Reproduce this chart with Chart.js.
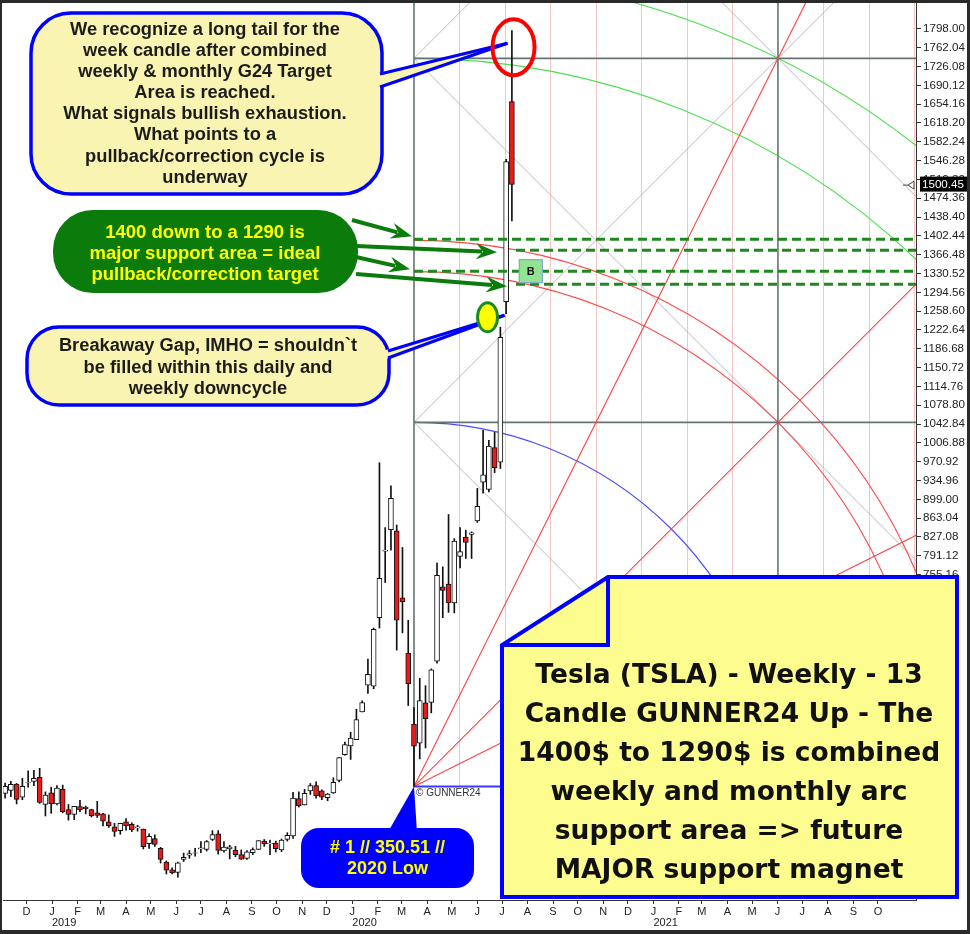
<!DOCTYPE html>
<html><head><meta charset="utf-8">
<script src="https://cdn.jsdelivr.net/npm/chart.js@4.4.1/dist/chart.umd.min.js"></script>
<style>
html,body{margin:0;padding:0;background:#fff;}
#wrap{position:relative;width:970px;height:934px;overflow:hidden;background:#fff;}
canvas{position:absolute;left:0;top:0;}
.t{position:absolute;text-align:center;font-family:"Liberation Sans",Arial,sans-serif;font-weight:bold;white-space:nowrap;}
.big{font-family:"DejaVu Sans",Verdana,sans-serif;}
</style></head><body>
<div id="wrap">
<canvas id="c" width="970" height="934"></canvas>
<div class="t" style="left:31px;top:18px;width:348px;font-size:18.3px;line-height:21.1px;color:#1c1c1c">We recognize a long tail for the<br>week candle after combined<br>weekly &amp; monthly G24 Target<br>Area is reached.<br>What signals bullish exhaustion.<br>What points to a<br>pullback/correction cycle is<br>underway</div>
<div class="t" style="left:53px;top:220.5px;width:304px;font-size:18.5px;line-height:21px;color:#ffff00">1400 down to a 1290 is<br>major support area = ideal<br>pullback/correction target</div>
<div class="t" style="left:27px;top:334px;width:362px;font-size:18.3px;line-height:21.5px;color:#1c1c1c">Breakaway Gap, IMHO = shouldn`t<br>be filled within this daily and<br>weekly downcycle</div>
<div class="t" style="left:301px;top:837px;width:173px;font-size:18px;line-height:21px;color:#ffff00"># 1 // 350.51 //<br>2020 Low</div>
<div class="t big" style="left:501px;top:653.5px;width:456px;font-size:26.5px;line-height:39px;color:#111">Tesla (TSLA) - Weekly - 13<br>Candle GUNNER24 Up - The<br>1400$ to 1290$ is combined<br>weekly and monthly arc<br>support area =&gt; future<br>MAJOR support magnet</div>
</div>
<script>
// ---------- DATA ----------
const weekDates = ['2018-11-05','2018-11-12','2018-11-19','2018-11-26','2018-12-03','2018-12-10','2018-12-17','2018-12-24','2018-12-31',
'2019-01-07','2019-01-14','2019-01-21','2019-01-28','2019-02-04','2019-02-11','2019-02-18','2019-02-25','2019-03-04','2019-03-11','2019-03-18','2019-03-25',
'2019-04-01','2019-04-08','2019-04-15','2019-04-22','2019-04-29','2019-05-06','2019-05-13','2019-05-20','2019-05-27','2019-06-03','2019-06-10','2019-06-17','2019-06-24',
'2019-07-01','2019-07-08','2019-07-15','2019-07-22','2019-07-29','2019-08-05','2019-08-12','2019-08-19','2019-08-26','2019-09-02','2019-09-09','2019-09-16','2019-09-23','2019-09-30',
'2019-10-07','2019-10-14','2019-10-21','2019-10-28','2019-11-04','2019-11-11','2019-11-18','2019-11-25','2019-12-02','2019-12-09','2019-12-16','2019-12-23','2019-12-30',
'2020-01-06','2020-01-13','2020-01-20','2020-01-27','2020-02-03','2020-02-10','2020-02-17','2020-02-24','2020-03-02','2020-03-09','2020-03-16','2020-03-23','2020-03-30',
'2020-04-06','2020-04-13','2020-04-20','2020-04-27','2020-05-04','2020-05-11','2020-05-18','2020-05-25','2020-06-01','2020-06-08','2020-06-15','2020-06-22','2020-06-29','2020-07-06','2020-07-13'];
const openP  = [337,343,355,330,357,360,368,316,338, 317,345,306,297,312,311,306,300,298,283,273,266, 283,278,271,269,241,251,232,206,191,186,211,219,223, 231,230,249,260,227,231,229,220,213,224,230,246,241,242, 229,249,256,327,315,342,352,342,329,338,362,411,428, 440,493,544,542,673,800,841,839,711,605,469.5,433,510, 511,590,732,737,701,790,827,832,858,932,917.8,998,970,1276.7,1659];
const highP  = [357,360,356,366,380,381,385,340,349, 352,353,316,312,324,313,307,322,299,296,280,280, 289,281,276,269,260,258,234,208,195,206,223,228,232, 245,247,266,266,245,238,236,229,228,233,247,249,248,246, 250,262,339,340,345,356,359,344,337,367,406,435,454, 498,514,594,653,969,845,925,850,807,668,501,557,543, 575,777,770,870,824,845,840,837,920,1031,1012,1027,1228,1548.9,1795];
const lowP   = [328,331,317,325,349,352,318,294,299, 315,300,286,287,302,298,292,291,275,272,255,259, 267,264,265,231,232,236,204,183,183,177,207,213,217, 224,227,247,221,225,212,216,211,211,220,230,236,220,225, 226,246,251,311,315,335,328,325,323,337,359,410,402, 440,493,528,537,653,740,802,611,644,505,350.51,403,424, 491,586,673,683,682,768,786,786,855,911,913,950,958,1254,1431];
const closeP = [350.5,354.3,325.8,350.5,358,365.7,319.8,333.9,317.7, 347.3,302.3,297.0,312.2,305.8,307.9,294.7,294.8,284.1,275.4,264.5,279.9, 275.0,267.8,273.3,235.1,255.0,239.5,211.0,190.6,185.2,204.5,214.9,221.9,223.5, 233.1,245.1,258.2,228.0,234.3,235.0,219.9,211.4,225.6,229.6,247.1,240.6,242.1,231.4, 247.9,257.0,328.1,313.3,337.1,352.2,333.0,329.9,335.9,358.4,405.6,430.4,443.0, 478.2,510.5,564.8,650.6,748.1,802,901,668,703.5,546.6,427.5,514.4,480.0, 573.0,753.9,725.2,701.3,819.4,799.2,816.9,835,885.7,946,1000.9,959.7,1208.7,1544.7,1500.6];
const yTicks = [1798.00,1762.04,1726.08,1690.12,1654.16,1618.20,1582.24,1546.28,1510.32,1474.36,1438.40,1402.44,1366.48,1330.52,1294.56,1258.60,1222.64,1186.68,1150.72,1114.76,1078.80,1042.84,1006.88,970.92,934.96,899.00,863.04,827.08,791.12,755.16,719.20,683.24,647.28,611.32,575.36,539.40,503.44,467.48,431.52,395.56,359.60,323.64,287.68,251.72,215.76,179.80,143.84];
const monthLetters = ['J','F','M','A','M','J','J','A','S','O','N','D'];
const yearLabels = ['2019','2020','2021'];
const supportLevels = [1396, 1375, 1335, 1310];
const lastPrice = 1500.45;
const gannOrigin = {date:'2020-03-16', price:350.51};
const gannSquare = {days:442.4, price:695.6};

// ---------- helpers ----------
const DAY0 = Date.UTC(2019,0,1);
function dayOf(s){const p=s.split('-').map(Number);return (Date.UTC(p[0],p[1]-1,p[2])-DAY0)/86400000;}
const monthTickDays = [], monthLabelByDay = {};
for(let y=2018,m=11; y<2021 || (y===2021 && m<=9); ){
  const d=(Date.UTC(y,m,1)-DAY0)/86400000; monthTickDays.push(d); monthLabelByDay[d]=monthLetters[m];
  m++; if(m>11){m=0;y++;}
}
const X_MIN=-59.56, X_MAX=1050.2, Y_MIN=133.4, Y_MAX=1847.5;
const FONT='"Liberation Sans", Arial, sans-serif';

function rrect(ctx,x,y,w,h,r){ctx.beginPath();ctx.moveTo(x+r,y);ctx.lineTo(x+w-r,y);ctx.arcTo(x+w,y,x+w,y+r,r);ctx.lineTo(x+w,y+h-r);ctx.arcTo(x+w,y+h,x+w-r,y+h,r);ctx.lineTo(x+r,y+h);ctx.arcTo(x,y+h,x,y+h-r,r);ctx.lineTo(x,y+r);ctx.arcTo(x,y,x+r,y,r);ctx.closePath();}
function line(ctx,x1,y1,x2,y2){ctx.beginPath();ctx.moveTo(x1,y1);ctx.lineTo(x2,y2);ctx.stroke();}
function arrow(ctx,x1,y1,x2,y2,col){
  const a=Math.atan2(y2-y1,x2-x1),L=18,W=8,c=Math.cos(a),s=Math.sin(a);
  const bx=x2-L*c,by=y2-L*s;
  ctx.strokeStyle=col;ctx.lineWidth=4;ctx.lineCap='butt';line(ctx,x1,y1,bx+3*c,by+3*s);
  ctx.fillStyle=col;ctx.beginPath();ctx.moveTo(x2,y2);
  ctx.lineTo(bx-3*c+W*s,by-3*s-W*c);ctx.lineTo(bx+4*c,by+4*s);ctx.lineTo(bx-3*c-W*s,by-3*s+W*c);ctx.closePath();ctx.fill();
}
function noPad(s){s.paddingTop=0;s.paddingBottom=0;s.paddingLeft=0;s.paddingRight=0;}

// ---------- Gann drawing (behind candles) ----------
const gannPlugin={id:'gann',beforeDatasetsDraw(chart){
  const ctx=chart.ctx,a=chart.chartArea,xs=chart.scales.x,ys=chart.scales.y;
  const od=dayOf(gannOrigin.date);
  const ox=xs.getPixelForValue(od),oy=ys.getPixelForValue(gannOrigin.price);
  const sx=xs.getPixelForValue(od+gannSquare.days)-ox, sy=oy-ys.getPixelForValue(gannOrigin.price+gannSquare.price);
  const P=(u,v)=>[ox+u*sx,oy-v*sy];
  ctx.save();ctx.beginPath();ctx.rect(a.left,a.top,a.right-a.left,a.bottom-a.top);ctx.clip();
  // pink verticals
  ctx.strokeStyle='#f0c6c6';ctx.lineWidth=1;
  for(let k=1;k<=11;k++){if(k===8)continue;const x=Math.round(ox+k*sx/8)+0.5;line(ctx,x,oy,x,a.top);}
  // light gray diagonals
  ctx.strokeStyle='#b8b8b8';ctx.lineWidth=1;
  [[0,1,1,0],[0,2,2,0],[0,1,2,3],[0,2,1,3],[0,3,2,1]].forEach(l=>{const p1=P(l[0],l[1]),p2=P(l[2],l[3]);line(ctx,p1[0],p1[1],p2[0],p2[1]);});
  // arcs
  const arcs=[[1,'#4a4aff'],[Math.SQRT2,'#ff4848'],[1.5,'#ff4848'],[2,'#4fe04f'],[Math.sqrt(5),'#4fe04f']];
  arcs.forEach(r=>{ctx.strokeStyle=r[1];ctx.lineWidth=1.1;ctx.beginPath();ctx.ellipse(ox,oy,r[0]*sx,r[0]*sy,0,-Math.PI/2,0);ctx.stroke();});
  // dark gray frame lines
  ctx.strokeStyle='#647474';ctx.lineWidth=1.6;
  [0,1].forEach(u=>{const x=ox+u*sx;line(ctx,x,oy,x,a.top);});
  [1,2].forEach(v=>{const y=oy-v*sy;line(ctx,ox,y,a.right,y);});
  // red fan lines
  ctx.strokeStyle='#ff4040';ctx.lineWidth=1.1;
  [[1,1],[1,0.5],[0.5,1]].forEach(d=>{const p=P(d[0]*4,d[1]*4);line(ctx,ox,oy,p[0],p[1]);});
  // blue base line
  ctx.strokeStyle='#3a3aff';ctx.lineWidth=2;line(ctx,ox,oy,ox+sx,oy);
  ctx.restore();
}};

// ---------- annotations ----------
const annotPlugin={id:'annot',
afterDatasetsDraw(chart){
  const ctx=chart.ctx,a=chart.chartArea,xs=chart.scales.x,ys=chart.scales.y;
  ctx.save();ctx.beginPath();ctx.rect(a.left,a.top,a.right-a.left,a.bottom-a.top);ctx.clip();
  const ox=xs.getPixelForValue(dayOf(gannOrigin.date));
  const lastX=xs.getPixelForValue(dayOf(weekDates[weekDates.length-1])+5);
  // support dashed lines
  ctx.strokeStyle='#1f891f';ctx.lineWidth=3;ctx.setLineDash([9,5]);
  supportLevels.forEach((v,i)=>{const y=ys.getPixelForValue(v);line(ctx,i%2===0?ox:lastX,y,a.right,y);});
  ctx.setLineDash([]);
  // B marker
  const bx=xs.getPixelForValue(582),by=ys.getPixelForValue(1335);
  ctx.fillStyle='#93e393';ctx.fillRect(bx-12,by-12,24,24);ctx.strokeStyle='#7f9ee0';ctx.lineWidth=1;ctx.strokeRect(bx-11.5,by-11.5,23,23);
  ctx.fillStyle='#111';ctx.font='bold 11px '+FONT;ctx.textAlign='center';ctx.textBaseline='middle';ctx.fillText('B',bx,by+1);
  // copyright
  ctx.fillStyle='#333';ctx.font='10px '+FONT;ctx.textAlign='left';ctx.fillText('\u00A9 GUNNER24',ox+2,ys.getPixelForValue(gannOrigin.price)+7);
  ctx.restore();
},
afterDraw(chart){
  const ctx=chart.ctx,xs=chart.scales.x,ys=chart.scales.y;
  ctx.save();
  const pale='#f9f4b2',blue='#0000ff',green='#0b7b0b';
  const ex=xs.getPixelForValue(561),ey=ys.getPixelForValue(1763);
  // top callout
  rrect(ctx,31,13,351,181,40);ctx.fillStyle=pale;ctx.fill();ctx.strokeStyle=blue;ctx.lineWidth=3.5;ctx.stroke();
  const tip1=[ex-6,ey-4];
  ctx.beginPath();ctx.moveTo(378,73);ctx.lineTo(tip1[0],tip1[1]);ctx.lineTo(378,88);ctx.closePath();ctx.fillStyle=pale;ctx.fill();
  ctx.strokeStyle=blue;ctx.lineWidth=3;line(ctx,380,74,tip1[0],tip1[1]);line(ctx,380,87,tip1[0],tip1[1]);
  ctx.strokeStyle='#ff0000';ctx.lineWidth=4;ctx.beginPath();ctx.ellipse(ex,ey,21,28,0,0,Math.PI*2);ctx.stroke();
  // green callout
  rrect(ctx,53,210,305,83,40);ctx.fillStyle=green;ctx.fill();
  const lv=supportLevels.map(v=>ys.getPixelForValue(v));
  arrow(ctx,352,220,412,lv[0]-3,green);
  arrow(ctx,356,246,497,lv[1]+2,green);
  arrow(ctx,356,257,410,lv[2]-2,green);
  arrow(ctx,356,274,507,lv[3]+2,green);
  // breakaway callout
  const gx=xs.getPixelForValue(529.4),gy=ys.getPixelForValue(1247);
  rrect(ctx,27,327,362,78,32);ctx.fillStyle=pale;ctx.fill();ctx.strokeStyle=blue;ctx.lineWidth=3.5;ctx.stroke();
  const tip2=[gx+17,gy-2];
  ctx.beginPath();ctx.moveTo(386,350);ctx.lineTo(tip2[0],tip2[1]);ctx.lineTo(386,359);ctx.closePath();ctx.fillStyle=pale;ctx.fill();
  ctx.strokeStyle=blue;ctx.lineWidth=3;line(ctx,388,351,tip2[0],tip2[1]);line(ctx,388,358,tip2[0],tip2[1]);
  ctx.beginPath();ctx.ellipse(gx,gy,10,14.5,0,0,Math.PI*2);ctx.fillStyle='#ffff00';ctx.fill();ctx.strokeStyle='#1d8a1d';ctx.lineWidth=3;ctx.stroke();
  // #1 low callout
  const lx=xs.getPixelForValue(dayOf(gannOrigin.date)),ly=ys.getPixelForValue(gannOrigin.price);
  ctx.fillStyle=blue;ctx.beginPath();ctx.moveTo(lx,ly);ctx.lineTo(lx-26,832);ctx.lineTo(lx+3,832);ctx.closePath();ctx.fill();
  rrect(ctx,301,828,173,60,18);ctx.fill();
  // big note box with folded corner
  ctx.beginPath();ctx.moveTo(608,577);ctx.lineTo(957,577);ctx.lineTo(957,897);ctx.lineTo(502,897);ctx.lineTo(502,645);ctx.closePath();
  ctx.fillStyle='#fdfd8f';ctx.fill();ctx.strokeStyle=blue;ctx.lineWidth=4;ctx.lineJoin='miter';ctx.stroke();
  ctx.beginPath();ctx.moveTo(502,645);ctx.lineTo(608,645);ctx.lineTo(608,577);ctx.stroke();
  // last price marker
  const py=ys.getPixelForValue(lastPrice);
  ctx.fillStyle='#000';ctx.fillRect(920,py-8,47,15);
  ctx.fillStyle='#fff';ctx.font='11.6px '+FONT;ctx.textAlign='left';ctx.textBaseline='middle';ctx.fillText(lastPrice.toFixed(2),922,py);
  ctx.strokeStyle='#444';ctx.lineWidth=1;line(ctx,903,py+0.5,908,py+0.5);
  ctx.beginPath();ctx.moveTo(908,py+0.5);ctx.lineTo(914,py-3.5);ctx.lineTo(914,py+4.5);ctx.closePath();ctx.stroke();
  // year labels
  ctx.fillStyle='#222';ctx.font='11px '+FONT;ctx.textAlign='left';ctx.textBaseline='middle';
  yearLabels.forEach(y=>{ctx.fillText(y,xs.getPixelForValue(dayOf(y+'-01-01')),923);});
  // outer frame
  ctx.fillStyle='#2a2a2a';ctx.fillRect(0,0,970,3);ctx.fillRect(0,0,2,934);ctx.fillRect(967,0,3,934);ctx.fillRect(0,930,970,4);
  ctx.restore();
}};

// ---------- chart ----------
const bodyColors=openP.map((o,i)=>closeP[i]>=o?'#ffffff':'#ec1b1b');
new Chart(document.getElementById('c').getContext('2d'),{
  type:'bar',
  data:{datasets:[
    {label:'wick',data:weekDates.map((d,i)=>({x:dayOf(d),y:[lowP[i],highP[i]]})),backgroundColor:'#111',barThickness:1,grouped:false,order:2},
    {label:'body',data:weekDates.map((d,i)=>({x:dayOf(d),y:[openP[i],closeP[i]]})),backgroundColor:bodyColors,borderColor:'#111',borderWidth:1,borderSkipped:false,barThickness:5,grouped:false,order:1}
  ]},
  options:{
    responsive:false,animation:false,devicePixelRatio:1,events:[],
    layout:{padding:{left:3,top:3,right:0,bottom:0}},
    plugins:{legend:{display:false},tooltip:{enabled:false}},
    scales:{
      x:{type:'linear',min:X_MIN,max:X_MAX,bounds:'data',offset:false,
        grid:{display:true,offset:false,drawOnChartArea:false,drawTicks:true,tickLength:4,color:'#333'},
        border:{display:true,color:'#333'},
        ticks:{autoSkip:false,maxRotation:0,padding:1,color:'#222',font:{family:FONT,size:11},callback:(v)=>monthLabelByDay[v]||''},
        afterBuildTicks:s=>{s.ticks=monthTickDays.map(v=>({value:v}));},
        afterFit:s=>{s.height=34;noPad(s);}},
      y:{type:'linear',position:'right',min:Y_MIN,max:Y_MAX,bounds:'data',
        grid:{display:true,drawOnChartArea:false,drawTicks:true,tickLength:5,color:'#333'},
        border:{display:true,color:'#333'},
        ticks:{padding:2,color:'#222',font:{family:FONT,size:11.6},callback:(v)=>Number(v).toFixed(2)},
        afterBuildTicks:s=>{s.ticks=yTicks.map(v=>({value:v}));},
        afterFit:s=>{s.width=54;noPad(s);}}
    }
  },
  plugins:[gannPlugin,annotPlugin]
});
</script>
</body></html>
